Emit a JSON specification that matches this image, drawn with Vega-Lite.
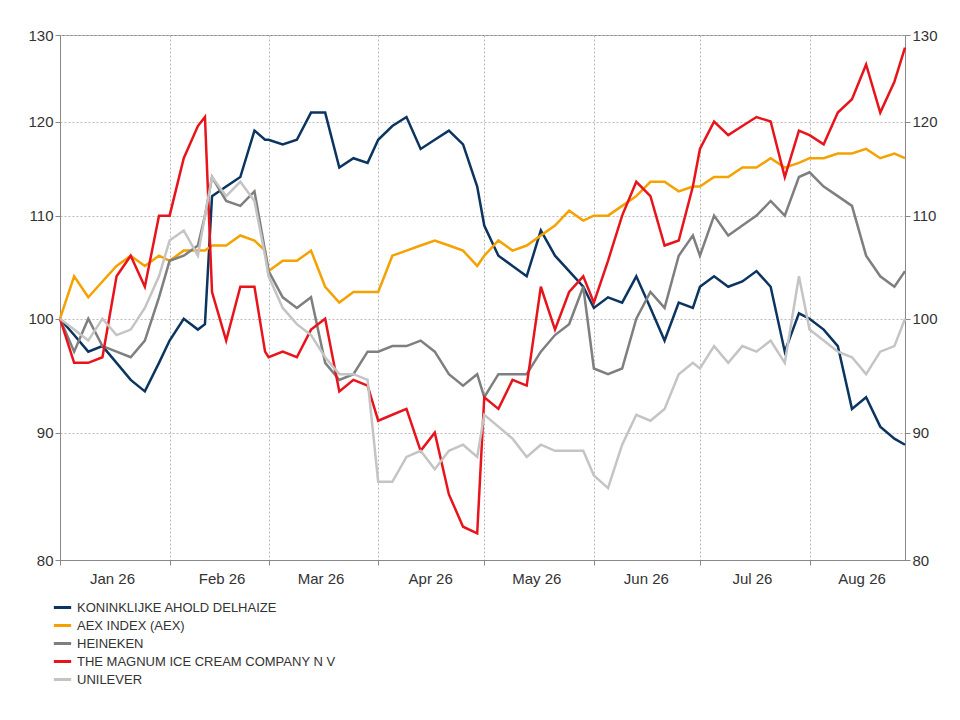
{
  "$schema": "https://vega.github.io/schema/vega-lite/v6.json",
  "width": 845,
  "height": 525,
  "autosize": "none",
  "padding": {"left": 60, "top": 35, "right": 55, "bottom": 160},
  "background": "white",
  "title": {"text": "Source: LSEG Datastream", "orient": "bottom", "anchor": "end", "offset": 118, "fontSize": 15, "fontWeight": "normal", "font": "Liberation Sans", "color": "#333333", "dx": 40},
  "data": {
    "values": [
      {"d": "2026-01-01", "A": 100, "X": 100, "H": 100, "M": 100, "U": 100},
      {"d": "2026-01-05", "A": 98.5, "X": 104, "H": 97, "M": 96, "U": 99},
      {"d": "2026-01-09", "A": 97, "X": 102, "H": 100, "M": 96, "U": 98},
      {"d": "2026-01-13", "A": 97.5, "X": 103.5, "H": 97.5, "M": 96.5, "U": 100},
      {"d": "2026-01-17", "A": 96, "X": 105, "H": 97, "M": 104, "U": 98.5},
      {"d": "2026-01-21", "A": 94.5, "X": 106, "H": 96.5, "M": 106, "U": 99},
      {"d": "2026-01-25", "A": 93.5, "X": 105, "H": 98, "M": 103, "U": 101},
      {"d": "2026-01-29", "A": 96, "X": 106, "H": 102, "M": 110, "U": 104},
      {"d": "2026-02-01", "A": 98, "X": 105.5, "H": 105.5, "M": 110, "U": 107.5},
      {"d": "2026-02-05", "A": 100, "X": 106.5, "H": 106, "M": 116, "U": 108.5},
      {"d": "2026-02-09", "A": 99, "X": 106.5, "H": 107, "M": 119.5, "U": 106},
      {"d": "2026-02-11", "A": 99.5, "X": 106.5, "H": 110, "M": 120.5, "U": 110},
      {"d": "2026-02-13", "A": 112, "X": 107, "H": 114, "M": 102.5, "U": 114},
      {"d": "2026-02-17", "A": 113, "X": 107, "H": 111.5, "M": 98, "U": 112},
      {"d": "2026-02-21", "A": 114, "X": 108, "H": 111, "M": 103, "U": 113.5},
      {"d": "2026-02-25", "A": 119, "X": 107.5, "H": 112.5, "M": 103, "U": 111.5},
      {"d": "2026-02-28", "A": 118, "X": 106.5, "H": 106.5, "M": 97, "U": 106},
      {"d": "2026-03-01", "A": 118, "X": 104.5, "H": 104.5, "M": 96.5, "U": 104},
      {"d": "2026-03-05", "A": 117.5, "X": 105.5, "H": 102, "M": 97, "U": 101},
      {"d": "2026-03-09", "A": 118, "X": 105.5, "H": 101, "M": 96.5, "U": 99.5},
      {"d": "2026-03-13", "A": 121, "X": 106.5, "H": 102, "M": 99, "U": 98.5},
      {"d": "2026-03-17", "A": 121, "X": 103, "H": 96, "M": 100, "U": 96.5},
      {"d": "2026-03-21", "A": 115, "X": 101.5, "H": 94.5, "M": 93.5, "U": 95},
      {"d": "2026-03-25", "A": 116, "X": 102.5, "H": 95, "M": 94.5, "U": 95},
      {"d": "2026-03-29", "A": 115.5, "X": 102.5, "H": 97, "M": 94, "U": 94.5},
      {"d": "2026-04-01", "A": 118, "X": 102.5, "H": 97, "M": 91, "U": 86},
      {"d": "2026-04-05", "A": 119.5, "X": 106, "H": 97.5, "M": 91.5, "U": 86},
      {"d": "2026-04-09", "A": 120.5, "X": 106.5, "H": 97.5, "M": 92, "U": 88},
      {"d": "2026-04-13", "A": 117, "X": 107, "H": 98, "M": 88.5, "U": 88.5},
      {"d": "2026-04-17", "A": 118, "X": 107.5, "H": 97, "M": 90, "U": 87},
      {"d": "2026-04-21", "A": 119, "X": 107, "H": 95, "M": 85, "U": 88.5},
      {"d": "2026-04-25", "A": 117.5, "X": 106.5, "H": 94, "M": 82.5, "U": 89},
      {"d": "2026-04-29", "A": 113, "X": 105, "H": 95, "M": 82, "U": 88},
      {"d": "2026-05-01", "A": 109, "X": 106, "H": 93, "M": 93, "U": 91.5},
      {"d": "2026-05-05", "A": 106, "X": 107.5, "H": 95, "M": 92, "U": 90.5},
      {"d": "2026-05-09", "A": 105, "X": 106.5, "H": 95, "M": 94.5, "U": 89.5},
      {"d": "2026-05-13", "A": 104, "X": 107, "H": 95, "M": 94, "U": 88},
      {"d": "2026-05-17", "A": 108.5, "X": 108, "H": 97, "M": 103, "U": 89},
      {"d": "2026-05-21", "A": 106, "X": 109, "H": 98.5, "M": 99, "U": 88.5},
      {"d": "2026-05-25", "A": 104.5, "X": 110.5, "H": 99.5, "M": 102.5, "U": 88.5},
      {"d": "2026-05-29", "A": 103, "X": 109.5, "H": 103, "M": 104, "U": 88.5},
      {"d": "2026-06-01", "A": 101, "X": 110, "H": 95.5, "M": 101.5, "U": 86.5},
      {"d": "2026-06-05", "A": 102, "X": 110, "H": 95, "M": 105.5, "U": 85.5},
      {"d": "2026-06-09", "A": 101.5, "X": 111, "H": 95.5, "M": 110, "U": 89},
      {"d": "2026-06-13", "A": 104, "X": 112, "H": 100, "M": 113.5, "U": 91.5},
      {"d": "2026-06-17", "A": 101, "X": 113.5, "H": 102.5, "M": 112, "U": 91},
      {"d": "2026-06-21", "A": 98, "X": 113.5, "H": 101, "M": 107, "U": 92},
      {"d": "2026-06-25", "A": 101.5, "X": 112.5, "H": 106, "M": 107.5, "U": 95},
      {"d": "2026-06-29", "A": 101, "X": 113, "H": 108, "M": 113, "U": 96},
      {"d": "2026-07-01", "A": 103, "X": 113, "H": 106, "M": 117, "U": 95.5},
      {"d": "2026-07-05", "A": 104, "X": 114, "H": 110, "M": 120, "U": 97.5},
      {"d": "2026-07-09", "A": 103, "X": 114, "H": 108, "M": 118.5, "U": 96},
      {"d": "2026-07-13", "A": 103.5, "X": 115, "H": 109, "M": 119.5, "U": 97.5},
      {"d": "2026-07-17", "A": 104.5, "X": 115, "H": 110, "M": 120.5, "U": 97},
      {"d": "2026-07-21", "A": 103, "X": 116, "H": 111.5, "M": 120, "U": 98},
      {"d": "2026-07-25", "A": 97, "X": 115, "H": 110, "M": 114, "U": 96},
      {"d": "2026-07-29", "A": 100.5, "X": 115.5, "H": 114, "M": 119, "U": 104},
      {"d": "2026-08-01", "A": 100, "X": 116, "H": 114.5, "M": 118.5, "U": 99},
      {"d": "2026-08-05", "A": 99, "X": 116, "H": 113, "M": 117.5, "U": 98},
      {"d": "2026-08-09", "A": 97.5, "X": 116.5, "H": 112, "M": 121, "U": 97},
      {"d": "2026-08-13", "A": 92, "X": 116.5, "H": 111, "M": 122.5, "U": 96.5},
      {"d": "2026-08-17", "A": 93, "X": 117, "H": 106, "M": 126.5, "U": 95},
      {"d": "2026-08-21", "A": 90.5, "X": 116, "H": 104, "M": 121, "U": 97},
      {"d": "2026-08-25", "A": 89.5, "X": 116.5, "H": 103, "M": 124.5, "U": 97.5},
      {"d": "2026-08-28", "A": 89, "X": 116, "H": 104.5, "M": 128.5, "U": 100}
    ]
  },
  "transform": [
    {"fold": ["A", "X", "H", "M", "U"], "as": ["key", "value"]},
    {"lookup": "key", "from": {"data": {"values": [
      {"key": "A", "name": "KONINKLIJKE AHOLD DELHAIZE"},
      {"key": "X", "name": "AEX INDEX (AEX)"},
      {"key": "H", "name": "HEINEKEN"},
      {"key": "M", "name": "THE MAGNUM ICE CREAM COMPANY N V"},
      {"key": "U", "name": "UNILEVER"}
    ]}, "key": "key", "fields": ["name"]}}
  ],
  "encoding": {
    "x": {
      "field": "d", "type": "temporal", "title": null,
      "scale": {"domain": ["2026-01-01", "2026-08-28"]},
      "axis": {"tickCount": {"interval": "month", "step": 1}, "format": "%b %y", "labelOffset": 52, "labelFlush": false, "labelFontSize": 15, "labelColor": "#333333", "labelPadding": 6, "grid": true, "gridDash": [2, 2], "gridColor": "#bbbbbb", "domainColor": "#888888", "tickColor": "#888888"}
    }
  },
  "layer": [
    {
      "mark": {"type": "line", "strokeWidth": 2.5},
      "encoding": {
        "y": {"field": "value", "type": "quantitative", "title": null,
          "scale": {"type": "log", "domain": [80, 130], "nice": false, "zero": false},
          "axis": {"values": [80, 90, 100, 110, 120, 130], "labelFontSize": 15, "labelColor": "#333333", "gridDash": [2, 2], "gridColor": "#bbbbbb", "domainColor": "#888888", "tickColor": "#888888"}},
        "color": {"field": "name", "type": "nominal",
          "scale": {"domain": ["KONINKLIJKE AHOLD DELHAIZE", "AEX INDEX (AEX)", "HEINEKEN", "THE MAGNUM ICE CREAM COMPANY N V", "UNILEVER"],
            "range": ["#0b3560", "#f5a100", "#7f7f7f", "#e8141b", "#c4c4c4"]},
          "legend": {"title": null, "orient": "none", "legendX": -8, "legendY": 562, "direction": "vertical", "symbolType": "stroke", "symbolStrokeWidth": 3, "symbolSize": 300, "labelFontSize": 13, "labelLimit": 400, "labelColor": "#333333", "rowPadding": 0, "labelOffset": 4}},
        "order": {"field": "key", "sort": "ascending"}
      }
    },
    {
      "mark": {"type": "line", "opacity": 0},
      "encoding": {
        "y": {"field": "value", "type": "quantitative", "title": null,
          "scale": {"type": "log", "domain": [80, 130], "nice": false, "zero": false},
          "axis": {"orient": "right", "grid": false, "values": [80, 90, 100, 110, 120, 130], "labelFontSize": 15, "labelColor": "#333333", "domainColor": "#888888", "tickColor": "#888888"}},
        "detail": {"field": "key"}
      }
    }
  ],
  "resolve": {"axis": {"y": "independent"}},
  "config": {"font": "Liberation Sans", "view": {"stroke": "#888888"}}
}
